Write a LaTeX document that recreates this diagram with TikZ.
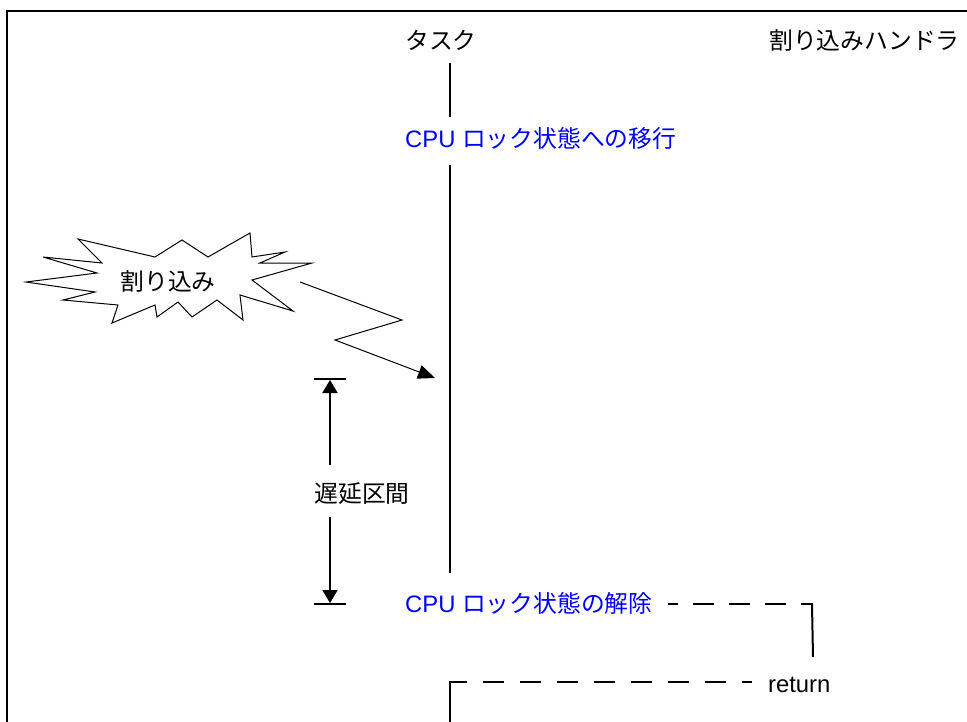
\documentclass[tikz,border=0pt]{standalone}
\usepackage{fontspec}
\setmainfont{Liberation Sans}
\newfontfamily\jp{Noto Sans CJK JP}
\usetikzlibrary{arrows.meta}
\definecolor{lblue}{RGB}{0,0,255}
\tikzset{
  lbl/.style={inner sep=0pt, font=\fontsize{23.8}{26}\selectfont},
  bluelbl/.style={lbl, text=lblue},
  thickln/.style={line width=2pt},
  thinln/.style={line width=1pt},
  dimarrow/.style={line width=2pt, -{Triangle[length=13pt,width=15pt]}},
}
\begin{document}
\begin{tikzpicture}[x=1pt,y=-1pt]
\useasboundingbox (0,0) rectangle (967,721);
% frame
\draw[thickln] (7,722) -- (7,11) -- (968,11);
% labels
\node[lbl] (task) at (441,40) {\jp タスク};
\node[lbl, anchor=west] (handler) at (769,40) {\jp 割り込みハンドラ};
\node[bluelbl, anchor=west] (lock) at (405,138) {CPU \jp ロック状態への移行};
\node[bluelbl, anchor=west] (unlock) at (405,603) {CPU \jp ロック状態の解除};
\node[lbl, anchor=west] (ret) at (768,685) {return};
\node[lbl] (delay) at (362,494) {\jp 遅延区間};
\node[lbl] (intr) at (168,281) {\jp 割り込み};
% task timeline
\coordinate (t1) at (450,63);
\coordinate (t2) at (450,117);
\coordinate (t3) at (450,165);
\coordinate (t4) at (450,573);
\draw[thickln] (t1) -- (t2);
\draw[thickln] (t3) -- (t4);
% starburst
\draw[thinln, line join=miter] (26,282) -- (97,273) -- (43,257) -- (102,263) -- (78,239) -- (155,257)
  -- (182,240) -- (208,257) -- (250,233) -- (252,257) -- (285,252) -- (260,263)
  -- (312,263) -- (252,280) -- (293,311) -- (240,295) -- (243,320) -- (217,300)
  -- (192,317) -- (178,302) -- (157,317) -- (155,305) -- (112,323) -- (118,305)
  -- (63,300) -- (95,292) -- cycle;
% zigzag interrupt arrow
\coordinate (z0) at (300,282);
\coordinate (z1) at (402,320);
\coordinate (z2) at (335,340);
\coordinate (z3) at (435,378);
\draw[thinln, -{Triangle[length=17pt,width=14pt]}] (z0) -- (z1) -- (z2) -- (z3);
% delay dimension
\coordinate (d1) at (314,379);
\coordinate (d2) at (346,379);
\coordinate (d3) at (314,604);
\coordinate (d4) at (346,604);
\draw[thickln] (d1) -- (d2);
\draw[thickln] (d3) -- (d4);
\coordinate (da) at (330,465);
\coordinate (db) at (330,517);
\draw[dimarrow] (da) -- (330,380);
\draw[dimarrow] (db) -- (330,603);
% return path
\coordinate (r1) at (668,604);
\coordinate (r2) at (813,604);
\coordinate (r3) at (813,657);
\draw[thickln, dash pattern=on 21pt off 15pt, dash phase=11pt] (r1) -- (r2);
\draw[thickln] (812,604) -- (r3);
\coordinate (b1) at (752,682);
\coordinate (b2) at (450,682);
\coordinate (b3) at (450,722);
\draw[thickln, dash pattern=on 21pt off 16pt, dash phase=11pt] (b1) -- (b2);
\draw[thickln] (460,682) -- (b2) -- (b3);
\end{tikzpicture}
\end{document}
